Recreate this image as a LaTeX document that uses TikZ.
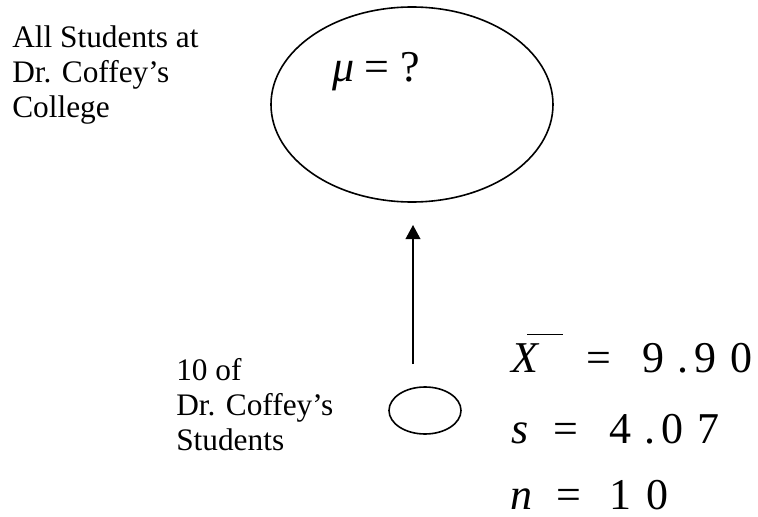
\documentclass[tikz,border=0pt]{standalone}
\usepackage{fontspec}
\setmainfont{Liberation Serif}
\usetikzlibrary{arrows.meta,shapes.geometric}
\newlength\pxu \setlength\pxu{0.75pt}

\begin{document}
\begin{tikzpicture}[x=0.75pt,y=-0.75pt,>={Triangle[length=10.5pt,width=11pt]},
    lbl/.style={align=left,inner sep=0pt,anchor=north west,font=\fontsize{23.5}{26.25}\selectfont},
    ring/.style={ellipse,draw,line width=1.2pt,inner sep=0pt},
    stat/.style={inner sep=0pt,anchor=base west,font=\fontsize{33}{33}\selectfont}]
  \useasboundingbox (0,0) rectangle (758,517);
  % population
  \node[lbl] (poptxt) at (12,25) {All Students at\\Dr. Coffey’s\\College};
  \node[ring,minimum width=211.5pt,minimum height=146.25pt] (pop) at (412,104.5) {};
  \node[stat] (mu) at (332,82) {\textit{μ}\kern10\pxu=\kern11\pxu?};
  % inference arrow
  \coordinate (tail) at (413,364);
  \coordinate (head) at (413,225);
  \draw[->,line width=1.1pt] (tail) -- (head);
  % sample
  \node[lbl] (samptxt) at (176,358) {10 of\\Dr. Coffey’s\\Students};
  \node[ring,minimum width=54pt,minimum height=35.25pt] (samp) at (425,410.5) {};
  \node[stat] (xbar) at (511,372) {\rlap{\kern16\pxu\rule[37\pxu]{36\pxu}{1.5\pxu}}\textit{X}\kern47\pxu=\kern31\pxu 9\kern13\pxu.\kern6\pxu 9\kern14\pxu 0};
  \node[stat] (sdev) at (511,443) {\textit{s}\kern25\pxu=\kern31\pxu 4\kern13\pxu.\kern6\pxu 0\kern14\pxu 7};
  \node[stat] (size) at (510,509) {\textit{n}\kern24\pxu=\kern28\pxu 1\kern15\pxu 0};
\end{tikzpicture}
\end{document}
